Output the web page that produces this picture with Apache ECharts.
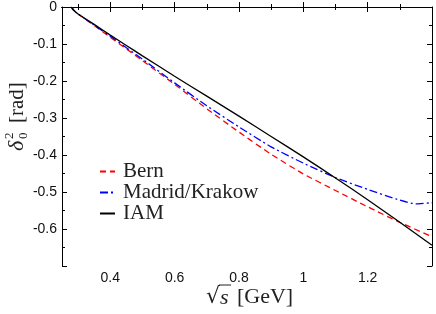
<!DOCTYPE html>
<html><head><meta charset="utf-8">
<script src="https://cdn.jsdelivr.net/npm/echarts@6/dist/echarts.min.js"></script>
<style>html,body{margin:0;padding:0;background:#fff}#c{width:436px;height:314px}</style>
</head><body><div id="c"></div>
<script>
// ---- data ----
var seriesNames = ['Bern', 'Madrid/Krakow', 'IAM'];
var xTickLabels = [0.4, 0.6, 0.8, 1.0, 1.2];
var xMinorTicks = [0.3, 0.5, 0.7, 0.9, 1.1, 1.3];

var xBern = [0.279,0.282,0.287,0.294,0.30,0.35,0.40,0.45,0.50,0.60,0.70,0.80,0.90,1.00,1.10,1.20,1.30,1.40];
var yBern = [0,-0.004,-0.009,-0.015,-0.019,-0.050,-0.082,-0.113,-0.145,-0.209,-0.275,-0.338,-0.398,-0.451,-0.496,-0.540,-0.582,-0.621];

var xMadrid = [0.279,0.282,0.287,0.294,0.30,0.35,0.40,0.45,0.50,0.60,0.70,0.80,0.90,1.00,1.10,1.20,1.30,1.35,1.40];
var yMadrid = [0,-0.004,-0.009,-0.015,-0.019,-0.049,-0.079,-0.110,-0.141,-0.205,-0.267,-0.324,-0.378,-0.422,-0.461,-0.493,-0.522,-0.532,-0.529];

var xIAM = [0.279,0.282,0.287,0.294,0.30,0.35,0.40,0.45,0.50,0.60,0.70,0.80,0.90,1.00,1.10,1.20,1.30,1.40];
var yIAM = [0,-0.004,-0.009,-0.015,-0.019,-0.047,-0.076,-0.104,-0.132,-0.187,-0.241,-0.295,-0.350,-0.405,-0.462,-0.521,-0.582,-0.644];

function pairs(xs, ys){ return xs.map(function(x,i){ return [x, ys[i]]; }); }

var chart = echarts.init(document.getElementById('c'), null, {renderer:'canvas'});
var axisCol = '#000';
var serif = 'Liberation Serif';
var sans = 'Liberation Sans';

function xAx(pos, ticks, len, labels){
  return {
    type:'value', position:pos, min:0.25, max:1.4, gridIndex:0,
    axisLine:{show:true, lineStyle:{color:axisCol, width:1}},
    axisTick:{show:true, inside:true, length:len, customValues:ticks, lineStyle:{color:axisCol, width:1}},
    axisLabel: labels ? {show:true, customValues:labels, margin:5, color:'#111', fontFamily:sans, fontSize:14,
      formatter:function(v){ return String(Math.round(v*10)/10); }} : {show:false},
    splitLine:{show:false}
  };
}
function yAx(pos, showLabels){
  return {
    type:'value', position:pos, min:-0.7, max:0, interval:0.1, gridIndex:0,
    axisLine:{show:true, lineStyle:{color:axisCol, width:1}},
    axisTick:{show:true, inside:true, length:5, lineStyle:{color:axisCol, width:1}},
    minorTick:{show:true, splitNumber:2, length:3, lineStyle:{color:axisCol, width:1}},
    axisLabel: showLabels ? {show:true, margin:5, color:'#111', fontFamily:sans, fontSize:14,
      formatter:function(v){ var r=Math.round(v*10)/10; if (r<=-0.7) return ''; return r===0 ? '0' : String(r); }} : {show:false},
    splitLine:{show:false}, minorSplitLine:{show:false}
  };
}
function line(i, xs, ys, color, type){
  return {name:seriesNames[i], type:'line', data:pairs(xs,ys), symbol:'none', smooth:0.2,
    lineStyle:{color:color, width:1.3, type:type}, itemStyle:{color:color}};
}

chart.setOption({
  animation:false,
  grid:{left:62, top:6, right:4, bottom:48, containLabel:false},
  xAxis:[
    xAx('bottom', xTickLabels, 5, xTickLabels),
    xAx('bottom', xMinorTicks, 3, null),
    xAx('top', xTickLabels, 5, null),
    xAx('top', xMinorTicks, 3, null)
  ],
  yAxis:[ yAx('left', true), yAx('right', false) ],
  legend:{
    orient:'vertical', left:99, top:161, padding:0, itemGap:0,
    itemWidth:15, itemHeight:10,
    itemStyle:{opacity:0},
    textStyle:{fontFamily:serif, fontSize:21, color:'#222', lineHeight:21, padding:[0,0,0,3]},
    data:seriesNames
  },
  series:[
    line(0, xBern, yBern, '#ff0000', [6,4]),
    line(1, xMadrid, yMadrid, '#0000ff', [8,3,2,3]),
    line(2, xIAM, yIAM, '#000000', 'solid')
  ],
  graphic:[
    {type:'group', x:17, y:115, rotation:Math.PI/2, children:[
      {type:'text', x:-36, y:0, style:{text:'δ', font:'italic 22px "Liberation Serif"', fill:'#222', textAlign:'left', textVerticalAlign:'middle'}},
      {type:'text', x:-24, y:-7, style:{text:'2', font:'13px "Liberation Serif"', fill:'#222', textAlign:'left', textVerticalAlign:'middle'}},
      {type:'text', x:-24, y:7, style:{text:'0', font:'13px "Liberation Serif"', fill:'#222', textAlign:'left', textVerticalAlign:'middle'}},
      {type:'text', x:-8, y:0, style:{text:'[rad]', font:'21px "Liberation Serif"', fill:'#222', textAlign:'left', textVerticalAlign:'middle'}}
    ]},
    {type:'text', x:206, y:297, style:{text:'√', font:'22px "DejaVu Serif"', fill:'#222', textAlign:'left', textVerticalAlign:'middle'}},
    {type:'line', shape:{x1:219, y1:285, x2:231, y2:285}, style:{stroke:'#222', lineWidth:1}},
    {type:'text', x:220, y:298, style:{text:'s', font:'italic 22px "Liberation Serif"', fill:'#222', textAlign:'left', textVerticalAlign:'middle'}},
    {type:'text', x:237, y:297, style:{text:'[GeV]', font:'22px "Liberation Serif"', fill:'#222', textAlign:'left', textVerticalAlign:'middle'}}
  ]
});
</script></body></html>
